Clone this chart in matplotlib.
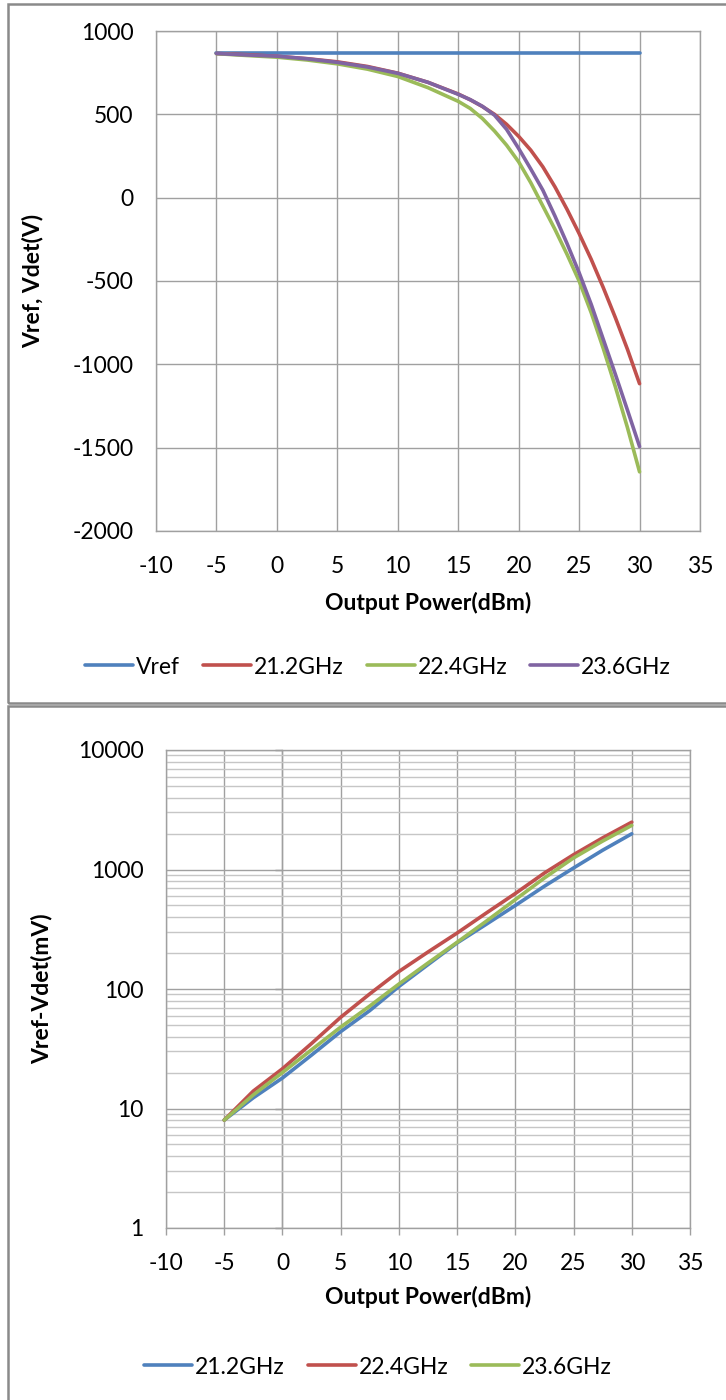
import matplotlib
matplotlib.use("Agg")
import matplotlib.pyplot as plt
from matplotlib.patches import Rectangle
from matplotlib.ticker import FixedLocator, NullFormatter, LogLocator

# ---------------- data ----------------
# top chart: Vref and Vdet
x_top = [-5, -2.5, 0, 2.5, 5, 7.5, 10, 12.5, 15, 16, 17, 18, 19, 20,
         21, 22, 23, 24, 25, 26, 27, 28, 29, 30]
vref = [865, 865, 865, 865, 865, 865, 865, 865, 865, 865, 865, 865, 865, 865,
        865, 865, 865, 865, 865, 865, 865, 865, 865, 865]
vdet_212 = [865, 858, 848, 834, 815, 787, 747, 692, 622, 587, 547, 500, 440, 368,
            285, 185, 65, -70, -215, -370, -540, -720, -910, -1116]
vdet_224 = [864, 853, 843, 826, 803, 771, 727, 660, 578, 535, 475, 400, 315, 215,
            90, -50, -190, -340, -500, -690, -905, -1135, -1380, -1645]
vdet_236 = [865, 856, 849, 833, 812, 784, 746, 692, 620, 588, 548, 495, 410, 295,
            172, 45, -110, -275, -450, -640, -850, -1060, -1275, -1493]

# bottom chart: Vref - Vdet (mV)
x_bot = [-5, -2.5, 0, 2.5, 5, 7.5, 10, 12.5, 15, 17.5, 20, 22.5, 25, 27.5, 30]
diff_212 = [8, 12.3, 18, 28, 44, 66, 105, 160, 243, 348, 500, 725, 1030, 1450, 1990]
diff_224 = [8, 14, 21.5, 35, 58, 91, 140, 204, 294, 432, 630, 935, 1330, 1840, 2490]
diff_236 = [8, 13, 20, 31, 48, 72, 110, 165, 246, 369, 560, 850, 1250, 1730, 2340]

top_labels = ["Vref", "21.2GHz", "22.4GHz", "23.6GHz"]
bot_labels = ["21.2GHz", "22.4GHz", "23.6GHz"]
x_ticks = [-10, -5, 0, 5, 10, 15, 20, 25, 30, 35]
top_yticks = [-2000, -1500, -1000, -500, 0, 500, 1000]
bot_yticks = [1, 10, 100, 1000, 10000]

# ---------------- style ----------------
C_BLUE = "#4F81BD"
C_RED = "#C0504D"
C_GREEN = "#9BBB59"
C_PURPLE = "#8064A2"
GRID = "#a0a0a0"
MINOR = "#c6c6c6"
FS = 16.5
LW = 2.6

plt.rcParams["font.family"] = ["Lato", "DejaVu Sans"]
plt.rcParams["axes.unicode_minus"] = False

W, H = 726, 1400
fig = plt.figure(figsize=(W / 100, H / 100), dpi=100)
fig.patch.set_facecolor("white")

def fx(px):
    return px / W

def fy(py):
    return 1 - py / H

# panel borders
fig.patches.append(Rectangle((fx(8), fy(703)), 1.0, fy(4) - fy(703), transform=fig.transFigure,
                             fill=False, edgecolor="#8a8a8a", lw=1.8, zorder=0))
fig.patches.append(Rectangle((fx(8), fy(1410)), 1.0, fy(706) - fy(1410), transform=fig.transFigure,
                             fill=False, edgecolor="#8a8a8a", lw=1.8, zorder=0))

# ---------------- top chart ----------------
ax1 = fig.add_axes([fx(156), fy(531), fx(700) - fx(156), fy(31) - fy(531)])
l0, = ax1.plot(x_top, vref, color=C_BLUE, lw=LW, solid_capstyle="round", solid_joinstyle="round", zorder=3)
l1, = ax1.plot(x_top, vdet_212, color=C_RED, lw=LW, solid_capstyle="round", solid_joinstyle="round", zorder=3)
l2, = ax1.plot(x_top, vdet_224, color=C_GREEN, lw=LW, solid_capstyle="round", solid_joinstyle="round", zorder=3)
l3, = ax1.plot(x_top, vdet_236, color=C_PURPLE, lw=LW, solid_capstyle="round", solid_joinstyle="round", zorder=4)
ax1.set_xlim(-10, 35)
ax1.set_ylim(-2000, 1000)
ax1.set_xticks(x_ticks)
ax1.set_yticks(top_yticks)
ax1.grid(True, color=GRID, lw=1.0)
ax1.set_axisbelow(True)
for s in ax1.spines.values():
    s.set_color(GRID)
    s.set_linewidth(1.0)
ax1.tick_params(axis="both", length=0, labelsize=FS, colors="black")
ax1.tick_params(axis="x", pad=18)
ax1.tick_params(axis="y", pad=16)
ax1.set_xlabel("Output Power(dBm)", fontsize=FS, fontweight="bold", va="center")
ax1.xaxis.set_label_coords(0.5, -(603 - 531) / 500)
ax1.set_ylabel("Vref, Vdet(V)", fontsize=FS, fontweight="bold", va="center")
ax1.yaxis.set_label_coords((33 - 156) / 544, 0.5)

fig.legend([l0, l1, l2, l3], top_labels, loc="center", bbox_to_anchor=(fx(378), fy(667)),
           ncol=4, frameon=False, fontsize=FS, handlelength=2.1, handletextpad=0.12,
           columnspacing=1.0)

# ---------------- bottom chart ----------------
ax2 = fig.add_axes([fx(166), fy(1228), fx(690) - fx(166), fy(750) - fy(1228)])
m1, = ax2.plot(x_bot, diff_212, color=C_BLUE, lw=LW, solid_capstyle="round", solid_joinstyle="round", zorder=3)
m2, = ax2.plot(x_bot, diff_224, color=C_RED, lw=LW, solid_capstyle="round", solid_joinstyle="round", zorder=3)
m3, = ax2.plot(x_bot, diff_236, color=C_GREEN, lw=LW, solid_capstyle="round", solid_joinstyle="round", zorder=4)
ax2.set_yscale("log")
ax2.set_xlim(-10, 35)
ax2.set_ylim(1, 10000)
ax2.set_xticks(x_ticks)
ax2.yaxis.set_major_locator(FixedLocator(bot_yticks))
ax2.set_yticklabels([str(v) for v in bot_yticks])
ax2.yaxis.set_minor_locator(LogLocator(base=10, subs=[2, 3, 4, 5, 6, 7, 8, 9]))
ax2.yaxis.set_minor_formatter(NullFormatter())
ax2.grid(True, which="major", color=GRID, lw=1.0)
ax2.grid(True, which="minor", axis="y", color=MINOR, lw=1.0)
ax2.set_axisbelow(True)
for s in ax2.spines.values():
    s.set_color(GRID)
    s.set_linewidth(1.0)
ax2.tick_params(axis="y", which="both", length=0, labelsize=FS, pad=16)
ax2.tick_params(axis="x", length=5, color=GRID, width=1.0, labelsize=FS, pad=13)
ax2.set_xlabel("Output Power(dBm)", fontsize=FS, fontweight="bold", va="center")
ax2.xaxis.set_label_coords(0.5, -(1297 - 1228) / 478)
ax2.set_ylabel("Vref-Vdet(mV)", fontsize=FS, fontweight="bold", va="center")
ax2.yaxis.set_label_coords((42 - 166) / 524, 0.5)

# value axis crossing at x = 0 with small outward ticks
sec = ax2.secondary_yaxis(10 / 45)
sec.set_yscale("log")
sec.yaxis.set_major_locator(FixedLocator(bot_yticks))
sec.yaxis.set_minor_locator(FixedLocator([]))
sec.set_yticklabels([])
sec.tick_params(axis="y", length=5, color="#808080", width=1.0)
sec.spines["left"].set_color(GRID)
sec.spines["left"].set_linewidth(1.0)

fig.legend([m1, m2, m3], bot_labels, loc="center", bbox_to_anchor=(fx(378), fy(1367)),
           ncol=3, frameon=False, fontsize=FS, handlelength=2.1, handletextpad=0.12,
           columnspacing=1.0)

fig.savefig("out.png", dpi=100, facecolor="white")
